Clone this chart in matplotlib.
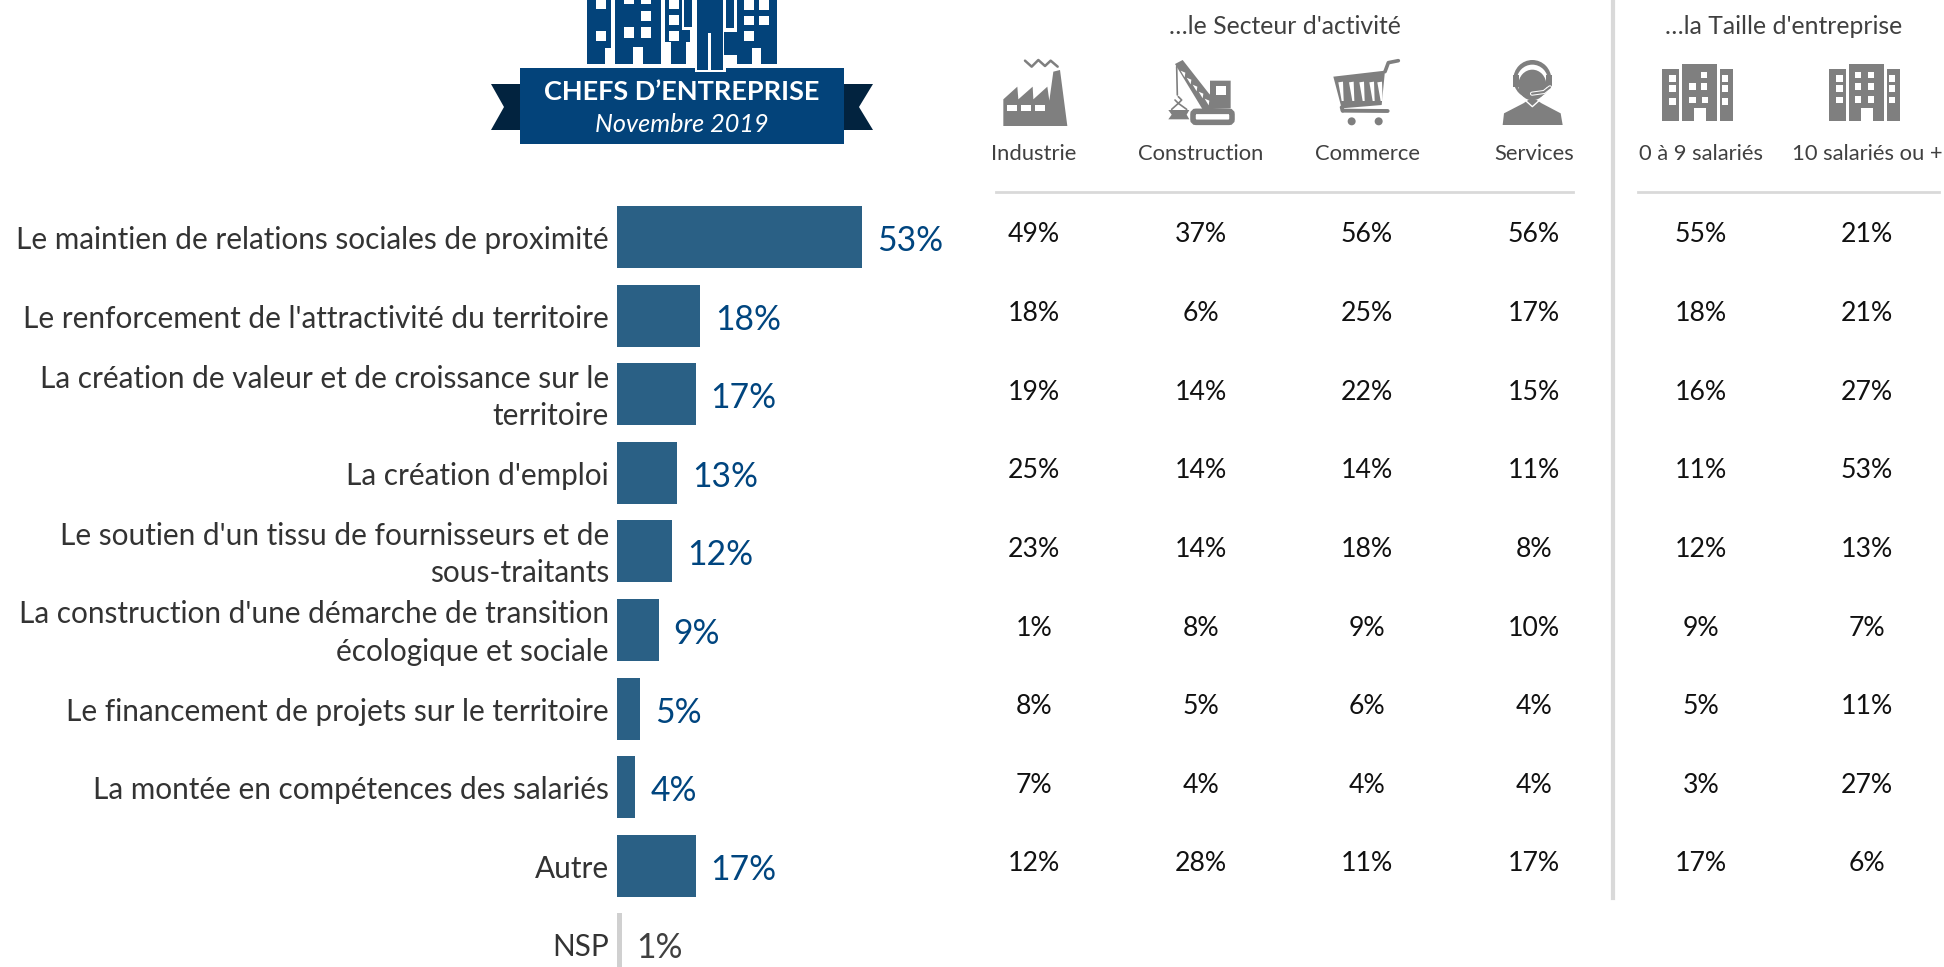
import matplotlib
matplotlib.use("Agg")
import matplotlib.pyplot as plt
from matplotlib.patches import Rectangle, Polygon, Ellipse, FancyBboxPatch

plt.rcParams['font.family'] = ['Lato', 'DejaVu Sans']

# values
categories = ["Le maintien de relations sociales de proximité",
              "Le renforcement de l'attractivité du territoire",
              "La création de valeur et de croissance sur le\nterritoire",
              "La création d'emploi",
              "Le soutien d'un tissu de fournisseurs et de\nsous-traitants",
              "La construction d'une démarche de transition\nécologique et sociale",
              "Le financement de projets sur le territoire",
              "La montée en compétences des salariés",
              "Autre",
              "NSP"]
total = [53, 18, 17, 13, 12, 9, 5, 4, 17, 1]

industrie = [49, 18, 19, 25, 23, 1, 8, 7, 12]
construction = [37, 6, 14, 14, 14, 8, 5, 4, 28]
commerce = [56, 25, 22, 14, 18, 9, 6, 4, 11]
services = [56, 17, 15, 11, 8, 10, 4, 4, 17]
petites = [55, 18, 16, 11, 12, 9, 5, 3, 17]
grandes = [21, 21, 27, 53, 13, 7, 11, 27, 6]

columns = [industrie, construction, commerce, services, petites, grandes]
column_names = ["Industrie", "Construction", "Commerce", "Services",
                "0 à 9 salariés", "10 salariés ou +"]
column_x = [1034, 1201, 1367, 1534, 1701, 1867]

W, H = 1944, 967
BLUE = "#03437a"
DARK = "#02233f"
BAR = "#2a6085"
LABEL = "#00457f"
TEXT = "#333333"
GREY = "#7f7f7f"
RULE = "#d9d9d9"

fig = plt.figure(figsize=(W / 100, H / 100), dpi=100)

# background axes in pixels, for the banner, icons and rules
bg = fig.add_axes([0, 0, 1, 1])
bg.set_xlim(0, W)
bg.set_ylim(H, 0)
bg.axis("off")

# bar axes: 4.62 px per percent, rows 78.6 px apart, first row centred on y=237
left, top = 617, 197.7
ax = fig.add_axes([left / W, 1 - (top + 786) / H, 462 / W, 786 / H])
ax.set_xlim(0, 100)
ax.set_ylim(9.5, -0.5)
ax.axis("off")

rows = list(range(len(categories)))
colors = [BAR] * 9 + ["#d0d0d0"]
ax.barh(rows, total, height=0.79, color=colors, clip_on=False)

for r in rows:
    ax.annotate(categories[r], xy=(0, r), xytext=(-8, -3), textcoords="offset pixels",
                ha="right", va="center", fontsize=21.4, color=TEXT, linespacing=1.4,
                annotation_clip=False)
    ax.annotate(f"{total[r]}%", xy=(total[r], r), xytext=(15, -4), textcoords="offset pixels",
                ha="left", va="center", fontsize=24.2,
                color=LABEL if r < 9 else "#404040", annotation_clip=False)

# table of values, on the same rows as the bars
for x, col in zip(column_x, columns):
    for r, v in enumerate(col):
        ax.annotate(f"{v}%", xy=(0, r), xytext=(x - left, 2), textcoords="offset pixels",
                    ha="center", va="center", fontsize=19.2, color="#111111",
                    annotation_clip=False)

# headers
bg.text(1285, 26, "…le Secteur d'activité", ha="center", va="center", fontsize=17.8, color="#404040")
bg.text(1784, 26, "…la Taille d'entreprise", ha="center", va="center", fontsize=17.8, color="#404040")
for x, name in zip(column_x, column_names):
    bg.text(x, 154, name, ha="center", va="center", fontsize=15.8, color="#404040")

bg.plot([996, 1573], [192, 192], color=RULE, lw=2)
bg.plot([1638, 1939], [192, 192], color=RULE, lw=2)
bg.plot([1613, 1613], [2, 898], color=RULE, lw=3)


# banner
def rect(x0, y0, x1, y1, color):
    bg.add_patch(Rectangle((x0, y0), x1 - x0, y1 - y0, color=color, lw=0))


bg.add_patch(Polygon([(491, 84), (520, 84), (520, 130), (491, 130), (504, 107)], color=DARK, lw=0))
bg.add_patch(Polygon([(873, 84), (844, 84), (844, 130), (873, 130), (859, 107)], color=DARK, lw=0))
rect(520, 68, 844, 144, BLUE)
bg.text(682, 92, "CHEFS D’ENTREPRISE", ha="center", va="center", fontsize=19.5,
        fontweight="bold", color="white", zorder=5)
bg.text(682, 124, "Novembre 2019", ha="center", va="center", fontsize=18.2,
        fontstyle="italic", color="white", zorder=5)


# icons are sketched in the coordinates of 3x crops of the header
def crop(ox, oy):
    def z(x, y):
        return ox + x / 3, oy + y / 3
    return z


def box(z, x0, y0, x1, y1, color=GREY):
    a, b = z(x0, y0)
    c, d = z(x1, y1)
    rect(a, b, c, d, color)


def poly(z, points, color=GREY):
    bg.add_patch(Polygon([z(*p) for p in points], color=color, lw=0))


def line(z, points, color=GREY, lw=1.5):
    pts = [z(*p) for p in points]
    bg.plot([p[0] for p in pts], [p[1] for p in pts], color=color, lw=lw,
            solid_capstyle="round", solid_joinstyle="round")


def oval(z, x, y, rx, ry, color=GREY):
    bg.add_patch(Ellipse(z(x, y), 2 * rx / 3, 2 * ry / 3, color=color, lw=0))


# skyline above the banner
sky = crop(580, 0)
box(sky, 20, 0, 92, 145, BLUE)
box(sky, 20, 145, 75, 192, BLUE)
box(sky, 105, 0, 242, 192, BLUE)
box(sky, 160, 140, 188, 192, "white")
box(sky, 255, 0, 330, 125, BLUE)
box(sky, 272, 125, 318, 192, BLUE)
box(sky, 470, 0, 592, 192, BLUE)
box(sky, 515, 145, 543, 192, "white")
for w in [(48, 0, 78, 28), (48, 92, 78, 122), (133, 0, 163, 12), (184, 0, 214, 12),
          (184, 32, 214, 62), (133, 82, 163, 114), (184, 82, 214, 114),
          (268, 0, 296, 28), (268, 46, 296, 76), (268, 92, 296, 122),
          (493, 0, 521, 30), (538, 0, 568, 30), (493, 48, 521, 76),
          (538, 48, 568, 76), (493, 92, 521, 122)]:
    box(sky, *w, "white")
box(sky, 306, 0, 344, 90, "white")
box(sky, 313, 0, 337, 82, BLUE)
box(sky, 344, 0, 438, 216, "white")
box(sky, 352, 0, 430, 98, BLUE)
box(sky, 350, 98, 385, 210, BLUE)
box(sky, 392, 98, 430, 210, BLUE)
box(sky, 430, 0, 470, 172, "white")
box(sky, 438, 0, 462, 84, BLUE)
box(sky, 432, 95, 470, 165, BLUE)

# factory
a = crop(990, 50)
poly(a, [(40, 228), (40, 148), (82, 110), (85, 148), (128, 110), (130, 148), (172, 110), (178, 152),
         (190, 65), (210, 60), (232, 228)])
for x in (52, 94, 136):
    box(a, x, 165, x + 30, 182, "white")
line(a, [(105, 32), (125, 50), (145, 30), (165, 48), (182, 32), (203, 50)], lw=1.8)

# crane
poly(a, [(660, 92), (722, 92), (722, 175), (640, 178), (660, 130)])
box(a, 678, 108, 708, 135, "white")
poly(a, [(555, 42), (578, 30), (672, 150), (640, 182)])
for k in range(5):
    x, y = 572 + 18 * k, 62 + 21 * k
    poly(a, [(x, y), (x + 14, y + 6), (x + 12, y + 20)], "white")
line(a, [(560, 50), (562, 135)], lw=1.2)
line(a, [(565, 140), (575, 150), (565, 160), (555, 150)], lw=1.2)
line(a, [(565, 160), (545, 178)], lw=1.2)
line(a, [(565, 160), (590, 178)], lw=1.2)
poly(a, [(535, 180), (598, 180), (590, 194), (598, 208), (535, 208), (545, 194)])
bg.add_patch(FancyBboxPatch(a(618, 193), 33, 5, boxstyle="round,pad=3", ec=GREY, fc="white", lw=4))

# cart
b = crop(1320, 50)
poly(b, [(40, 80), (195, 62), (185, 165), (65, 175)])
for x in (55, 87, 118, 148, 172):
    poly(b, [(x, 97), (x + 14, 95), (x + 16, 153), (x + 10, 153)], "white")
line(b, [(195, 65), (205, 38), (235, 32)], lw=2.6)
line(b, [(68, 182), (203, 183)], lw=2.8)
line(b, [(65, 172), (68, 182)], lw=2.8)
for x in (95, 176):
    oval(b, x, 214, 12, 12)

# services
oval(b, 637, 88, 57, 58)
oval(b, 637, 92, 47, 48, "white")
oval(b, 637, 105, 42, 46)
box(b, 580, 75, 597, 112)
box(b, 678, 75, 695, 112)
poly(b, [(548, 225), (552, 190), (610, 160), (625, 150), (650, 150), (665, 160), (722, 190), (728, 225)])
line(b, [(618, 153), (637, 170), (656, 153)], "white", 1)
line(b, [(690, 112), (672, 126), (636, 131)], "white", 3)
line(b, [(690, 112), (672, 126), (636, 131)], GREY, 1.5)


# the two building icons, x scale 1.593 and y scale 3 from the wide crop
def wide(x, y):
    return 960 + x / 1.593, y / 3


def building(dx, windows):
    box(wide, 1118 + dx, 207, 1146 + dx, 362)
    box(wide, 1150 + dx, 192, 1206 + dx, 362)
    box(wide, 1210 + dx, 207, 1232 + dx, 362)
    box(wide, 1170 + dx, 325, 1188 + dx, 362, "white")
    for x, y in windows:
        box(wide, x + dx, y, x + 10 + dx, y + 20, "white")


building(0, [(1130, 225), (1130, 255), (1130, 295), (1180, 215), (1162, 250), (1180, 250),
             (1162, 290), (1182, 290), (1214, 225), (1214, 255), (1214, 295)])
building(266, [(1130, 225), (1130, 255), (1130, 290), (1160, 215), (1180, 215), (1160, 250),
               (1180, 250), (1160, 288), (1180, 288), (1214, 225), (1214, 255), (1214, 290)])

fig.savefig("out.png", dpi=100, facecolor="white")
